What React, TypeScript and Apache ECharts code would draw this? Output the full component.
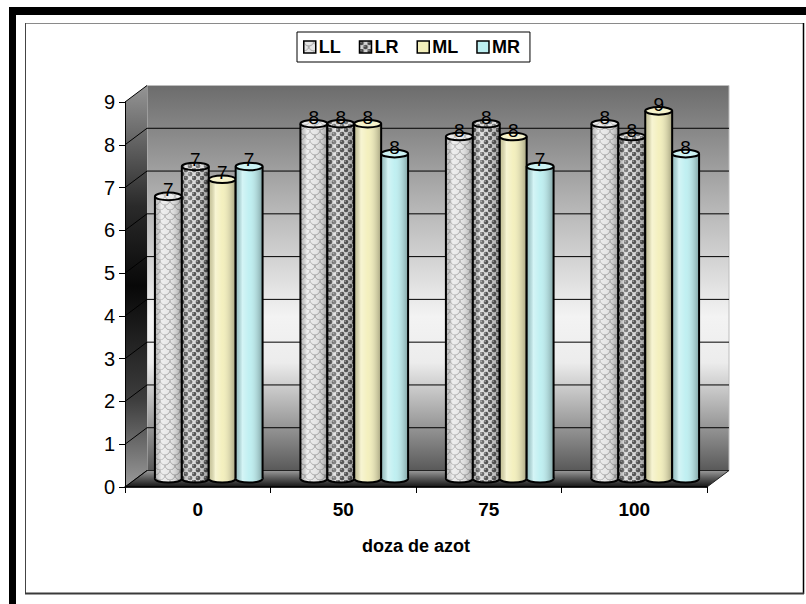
import React, { useEffect, useRef } from "react";
import * as echarts from "echarts";

// Nitrogen dose categories and the four series
const categories = ["0", "50", "75", "100"];
const seriesNames = ["LL", "LR", "ML", "MR"];
const valuesLL = [6.6, 8.3, 8.0, 8.3];
const valuesLR = [7.3, 8.3, 8.3, 8.0];
const valuesML = [7.0, 8.3, 8.0, 8.6];
const valuesMR = [7.3, 7.6, 7.3, 7.6];
const yTicks = [0, 1, 2, 3, 4, 5, 6, 7, 8, 9];

const FONT = 'Arial, "Liberation Sans", sans-serif';
// depth of the 3D box (back wall offset) and of the bar plane
const DEPTH_X = 22;
const DEPTH_Y = 16.5;
const BAR_DX = DEPTH_X / 2;
const BAR_DY = -DEPTH_Y / 2;

function scalePattern() {
  const c = document.createElement("canvas");
  c.width = 10;
  c.height = 10;
  const g = c.getContext("2d")!;
  g.fillStyle = "#e6e6e6";
  g.fillRect(0, 0, 10, 10);
  g.strokeStyle = "#a2a2a2";
  g.lineWidth = 1;
  g.beginPath();
  g.arc(5, 0, 5, 0, Math.PI);
  g.stroke();
  g.beginPath();
  g.arc(0, 5, 5, 0, Math.PI);
  g.stroke();
  g.beginPath();
  g.arc(10, 5, 5, 0, Math.PI);
  g.stroke();
  return { image: c.toDataURL(), repeat: "repeat", imageWidth: 10, imageHeight: 10 };
}

function ballPattern() {
  const c = document.createElement("canvas");
  c.width = 8;
  c.height = 8;
  const g = c.getContext("2d")!;
  g.fillStyle = "#d6d6d6";
  g.fillRect(0, 0, 8, 8);
  const ball = (x: number, y: number) => {
    g.fillStyle = "#4a4a4a";
    g.beginPath();
    g.arc(x, y, 2.3, 0, Math.PI * 2);
    g.fill();
    g.fillStyle = "#9a9a9a";
    g.beginPath();
    g.arc(x - 0.8, y - 0.8, 0.8, 0, Math.PI * 2);
    g.fill();
  };
  ball(2, 2);
  ball(6, 6);
  ball(6, -2);
  ball(-2, 6);
  ball(10, 6);
  ball(6, 10);
  return { image: c.toDataURL(), repeat: "repeat", imageWidth: 8, imageHeight: 8 };
}

const shade = {
  type: "linear",
  x: 0,
  y: 0,
  x2: 1,
  y2: 0,
  colorStops: [
    { offset: 0, color: "rgba(0,0,0,0.18)" },
    { offset: 0.25, color: "rgba(255,255,255,0.35)" },
    { offset: 0.5, color: "rgba(255,255,255,0.05)" },
    { offset: 1, color: "rgba(0,0,0,0.32)" },
  ],
};

export default function App() {
  const ref = useRef<HTMLDivElement>(null);

  useEffect(() => {
    if (!ref.current) return;
    const chart = echarts.init(ref.current, undefined, { renderer: "svg" });

    const fills: any[] = [scalePattern(), ballPattern(), "#f3efbb", "#bdeff1"];
    const allValues = [valuesLL, valuesLR, valuesML, valuesMR];

    const makeBar = (idx: number) => (params: any, api: any) => {
      const cat = api.value(0);
      const val = api.value(1);
      const base = api.coord([cat, 0]);
      const top = api.coord([cat, val]);
      const band = api.size([1, 0])[0];
      const w = band * 0.185;
      const cx = base[0] + BAR_DX + (idx - 1.5) * w;
      const yb = base[1] + BAR_DY;
      const yt = top[1] + BAR_DY;
      const rx = w / 2;
      const ry = 3.8;
      const fill = fills[idx];
      return {
        type: "group",
        children: [
          // bottom cap: only its lower half stays visible below the body
          { type: "ellipse", shape: { cx, cy: yb, rx, ry }, style: { fill } },
          { type: "ellipse", shape: { cx, cy: yb, rx, ry }, style: { fill: shade, stroke: "#000", lineWidth: 2 } },
          // cylinder body
          { type: "rect", shape: { x: cx - rx, y: yt, width: w, height: yb - yt }, style: { fill } },
          { type: "rect", shape: { x: cx - rx, y: yt, width: w, height: yb - yt }, style: { fill: shade } },
          { type: "line", shape: { x1: cx - rx, y1: yt, x2: cx - rx, y2: yb }, style: { stroke: "#000", lineWidth: 2 } },
          { type: "line", shape: { x1: cx + rx, y1: yt, x2: cx + rx, y2: yb }, style: { stroke: "#000", lineWidth: 2 } },
          // top cap
          { type: "ellipse", shape: { cx, cy: yt, rx, ry }, style: { fill } },
          { type: "ellipse", shape: { cx, cy: yt, rx, ry }, style: { fill: "rgba(255,255,255,0.25)", stroke: "#000", lineWidth: 2 } },
          {
            type: "text",
            style: {
              text: String(Math.round(val)),
              x: cx,
              y: yt + 3,
              align: "center",
              verticalAlign: "bottom",
              fontSize: 19,
              fontFamily: FONT,
              fill: "#000",
            },
          },
        ],
      };
    };

    const renderWalls = (params: any, api: any) => {
      const cs = params.coordSys;
      const gx = cs.x;
      const gw = cs.width;
      const y0 = api.coord([0, 0])[1];
      const yMax = api.coord([0, yTicks[yTicks.length - 1]])[1];
      const children: any[] = [];
      // back wall
      children.push({
        type: "rect",
        shape: { x: gx + DEPTH_X, y: yMax - DEPTH_Y, width: gw, height: y0 - yMax },
        style: {
          fill: {
            type: "linear", x: 0, y: 0, x2: 0, y2: 1,
            colorStops: [
              { offset: 0, color: "#6c6c6c" },
              { offset: 0.3, color: "#b2b2b2" },
              { offset: 0.6, color: "#f3f3f3" },
              { offset: 0.72, color: "#ececec" },
              { offset: 0.86, color: "#a4a4a4" },
              { offset: 1, color: "#595959" },
            ],
          },
          stroke: "#bdbdbd",
          lineWidth: 1,
        },
      });
      // side wall
      children.push({
        type: "polygon",
        shape: { points: [[gx, yMax], [gx + DEPTH_X, yMax - DEPTH_Y], [gx + DEPTH_X, y0 - DEPTH_Y], [gx, y0]] },
        style: {
          fill: {
            type: "linear", x: 0, y: 0, x2: 0, y2: 1,
            colorStops: [
              { offset: 0, color: "#959595" },
              { offset: 0.3, color: "#2a2a2a" },
              { offset: 0.5, color: "#080808" },
              { offset: 0.78, color: "#3c3c3c" },
              { offset: 1, color: "#9a9a9a" },
            ],
          },
        },
      });
      // floor
      children.push({
        type: "polygon",
        shape: { points: [[gx, y0], [gx + DEPTH_X, y0 - DEPTH_Y], [gx + gw + DEPTH_X, y0 - DEPTH_Y], [gx + gw, y0]] },
        style: {
          fill: {
            type: "linear", x: 0, y: 0, x2: 0, y2: 1,
            colorStops: [
              { offset: 0, color: "#9a9a9a" },
              { offset: 0.45, color: "#5c5c5c" },
              { offset: 1, color: "#151515" },
            ],
          },
          stroke: "#222",
          lineWidth: 1,
        },
      });
      yTicks.forEach((t) => {
        const y = api.coord([0, t])[1];
        children.push({
          type: "line",
          shape: { x1: gx, y1: y, x2: gx + DEPTH_X, y2: y - DEPTH_Y },
          style: { stroke: "#000", lineWidth: 1 },
        });
        if (t > 0 && t < yTicks[yTicks.length - 1]) {
          children.push({
            type: "line",
            shape: { x1: gx + DEPTH_X, y1: y - DEPTH_Y, x2: gx + gw + DEPTH_X, y2: y - DEPTH_Y },
            style: { stroke: "#000", lineWidth: 1 },
          });
        }
      });
      return { type: "group", children };
    };

    const option: any = {
      animation: false,
      backgroundColor: "#fff",
      graphic: [
        { type: "rect", z: -10, shape: { x: 9, y: 7, width: 797, height: 8 }, style: { fill: "#000" } },
        { type: "rect", z: -10, shape: { x: 9, y: 7, width: 7, height: 597 }, style: { fill: "#000" } },
        { type: "rect", z: -10, shape: { x: 25, y: 23, width: 779, height: 571 }, style: { fill: "#fff" } },
        { type: "line", z: -9, shape: { x1: 25, y1: 23.5, x2: 804, y2: 23.5 }, style: { stroke: "#8a8a8a", lineWidth: 1 } },
        { type: "line", z: -9, shape: { x1: 25.5, y1: 23, x2: 25.5, y2: 594 }, style: { stroke: "#444", lineWidth: 1 } },
        { type: "line", z: -9, shape: { x1: 803.5, y1: 23, x2: 803.5, y2: 594 }, style: { stroke: "#000", lineWidth: 1.5 } },
        { type: "line", z: -9, shape: { x1: 25, y1: 593.5, x2: 804, y2: 593.5 }, style: { stroke: "#3a3a3a", lineWidth: 2 } },
      ],
      legend: {
        data: seriesNames,
        left: 297,
        top: 32,
        padding: [6, 10, 6, 6],
        itemGap: 18,
        itemWidth: 12,
        itemHeight: 12,
        icon: "rect",
        borderColor: "#000",
        borderWidth: 1,
        backgroundColor: "#fff",
        itemStyle: { borderColor: "#000", borderWidth: 1.5 },
        textStyle: { fontSize: 18, fontWeight: "bold", fontFamily: FONT, color: "#000", padding: [0, 0, 0, -2] },
      },
      grid: { left: 125, top: 102, width: 582, height: 385 },
      xAxis: {
        type: "category",
        data: categories,
        name: "doza de azot",
        nameLocation: "middle",
        nameGap: 50,
        nameTextStyle: { fontSize: 18, fontWeight: "bold", fontFamily: FONT, color: "#000" },
        axisLine: { lineStyle: { color: "#000", width: 1.5 } },
        axisTick: { show: true, length: 6, interval: 0, lineStyle: { color: "#000" } },
        axisLabel: { fontSize: 19, fontWeight: "bold", fontFamily: FONT, color: "#000", margin: 13 },
        splitLine: { show: false },
      },
      yAxis: {
        type: "value",
        min: 0,
        max: 9,
        interval: 1,
        axisLine: { show: true, lineStyle: { color: "#000", width: 1 } },
        axisTick: { show: true, length: 6, lineStyle: { color: "#000" } },
        axisLabel: { fontSize: 20, fontFamily: FONT, color: "#000", margin: 10 },
        splitLine: { show: false },
      },
      series: [
        {
          type: "custom",
          name: "walls",
          z: -5,
          silent: true,
          renderItem: renderWalls,
          data: [[0, 0]],
          encode: { x: 0, y: 1 },
        },
        ...seriesNames.map((name, i) => ({
          type: "custom",
          name,
          z: 2,
          itemStyle: { color: fills[i] },
          renderItem: makeBar(i),
          data: allValues[i].map((v, j) => [j, v]),
          encode: { x: 0, y: 1 },
        })),
      ],
    };

    chart.setOption(option);
    return () => chart.dispose();
  }, []);

  return (
    <div
      ref={ref}
      style={{ position: "fixed", left: 0, top: 0, width: 806, height: 604 }}
    />
  );
}
